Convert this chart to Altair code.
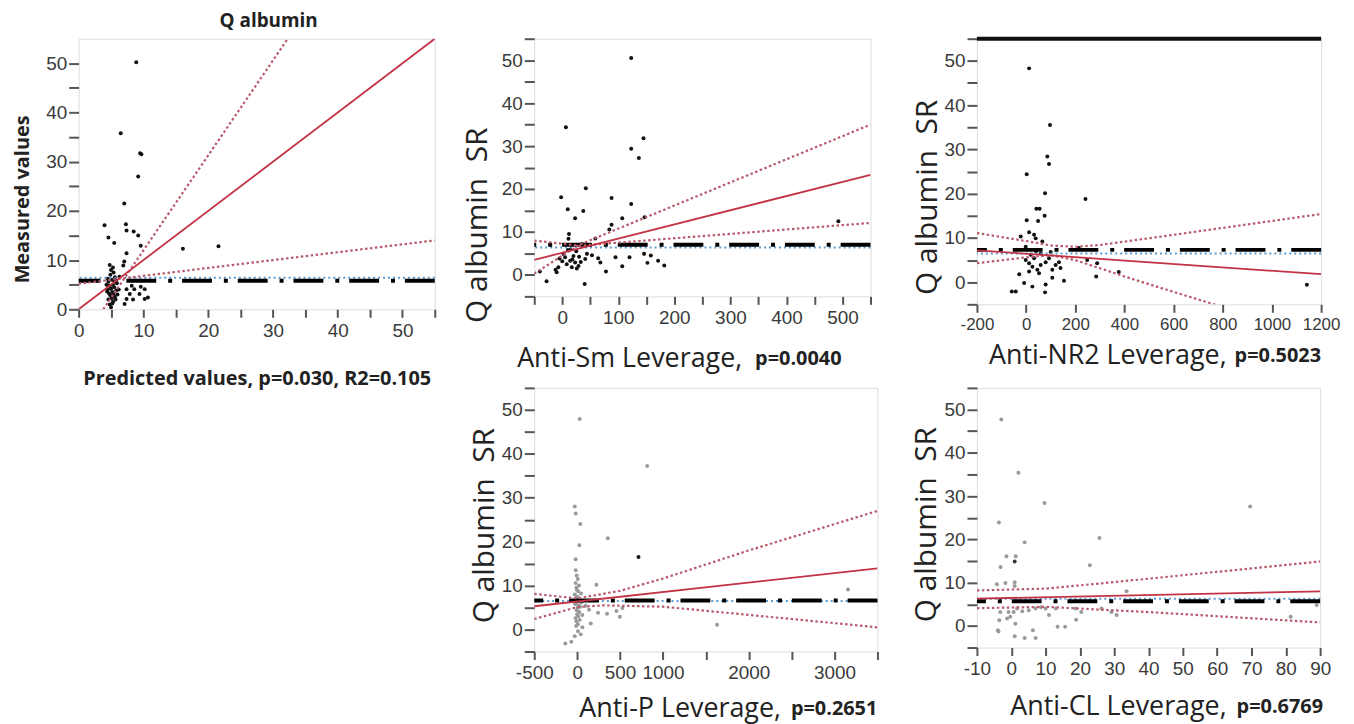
import altair as alt
import pandas as pd

# ---------------- Panel 1: Q albumin, measured vs predicted ----------------
P1_X = [8.9, 6.5, 9.7, 9.5, 9.2, 7.05, 4.0, 7.3, 7.4, 8.5, 4.6, 9.2, 5.5, 9.6, 7.4, 16.1, 21.6, 7.05, 6.9,
        7.4, 8.6, 10.2, 7.9, 9.4, 7.4, 8.4, 10.2, 10.7, 7.1, 9.6, 8.2,
        5.0, 4.8, 5.3, 4.6, 5.1, 5.6, 4.9, 5.4, 4.7, 5.2, 5.8, 4.5, 5.0, 5.5, 4.8, 5.3, 5.9, 4.6, 5.1, 5.6,
        4.9, 5.4, 5.0, 5.3, 4.8, 4.4, 5.7, 6.2, 6.0, 4.3, 5.2, 5.8, 6.3, 4.5]
P1_Y = [50.2, 35.8, 31.5, 31.7, 27.0, 21.5, 17.1, 17.3, 16.0, 15.8, 14.6, 15.0, 13.5, 12.9, 11.4, 12.3, 12.8, 9.7, 8.9,
        4.1, 4.1, 4.1, 3.1, 3.1, 2.1, 2.0, 2.1, 2.4, 1.1, 4.6, 4.8,
        0.4, 1.0, 1.5, 2.0, 2.2, 2.5, 2.8, 3.0, 3.2, 3.5, 3.8, 4.0, 4.2, 4.5, 4.8, 5.0, 5.3, 5.6, 6.0, 6.5,
        7.0, 7.5, 8.0, 8.5, 9.0, 3.6, 2.0, 4.0, 3.0, 5.0, 1.2, 5.8, 6.6, 6.2]
P1_FIT_X, P1_FIT_Y = [0, 55], [0, 55]
P1_UP_X, P1_UP_Y = [3.8, 32.3], [0, 55]
P1_LO_X, P1_LO_Y = [0, 55], [5.2, 14.0]
P1_MEAN, P1_BLUE = 5.8, 6.4

# ---------------- Panel 2: Anti-Sm ----------------
P2_X = [123, 6.5, 145, 123, 136.7, 42, -2, 88, 9.8, 37.5, 123, 22.9, 107, 147, 88, 84, 492.7, 59, 12, 11, 35,
        2, 5, 14, 23, 8, -7, 17, -12, 29, 41, 44, 53, 64, 68, 78, 95, 107, 120, 146, 152, 158, 171, 182,
        -28, -40, 40, -10, 15, 25, 30, 10, 20, 0, -5, 33, 18, 26]
P2_Y = [50.5, 34.4, 31.8, 29.4, 27.2, 20.2, 18.1, 17.9, 15.3, 14.9, 16.5, 13.2, 13.2, 13.4, 11.7, 10.6, 12.5, 8.5, 9.5, 8.4, 7.2,
        4.9, 4.1, 3.3, 2.9, 2.5, 1.8, 1.8, 1.2, 2.1, 3.7, 4.9, 4.6, 3.9, 2.9, 0.8, 4.1, 2.0, 4.1, 4.9, 2.8, 4.5, 3.3, 2.2,
        -1.5, 0.8, -2.1, 0.6, 6.0, 5.5, 4.2, 5.8, 4.4, 3.2, 3.8, 3.0, 3.6, 1.5]
P2_FIT_X, P2_FIT_Y = [-50, 550], [3.5, 23.3]
P2_UP_X, P2_UP_Y = [-50, 30, 550], [0.3, 7.0, 35.0]
P2_LO_X, P2_LO_Y = [-50, 30, 550], [8.0, 6.8, 12.1]
P2_MEAN, P2_BLUE = 7.0, 6.4

# ---------------- Panel 3: Anti-NR2 ----------------
P3_X = [12.2, 97.3, 86.3, 93.2, 2.5, 241.5, 77, 41.8, 55, 75.4, 2.5, 48.7, 1142, 12.2, -21.8, 32.5, 39, 66, -1.5,
        214.7, 248.4, 289, 377, 285, 154, -28, -8, -58, -42, 25.6, 79.5, 77, 106.6, 140, 133.7,
        18.7, 32.5, 12.2, 25.6, 45.8, 59.3, 79.5, 93.2, 12.2, 52.6, 106.6, 120, -1.5, 60, 40, 100]
P3_Y = [48.3, 35.5, 28.4, 26.7, 24.4, 18.8, 20.1, 16.6, 16.6, 15.0, 14.0, 13.8, -0.6, 11.3, 10.3, 10.7, 9.9, 9.2, 8.0,
        7.7, 5.0, 4.3, 2.3, 1.3, 0.3, 1.8, -0.2, -2.1, -2.1, -1.0, -0.5, -2.3, 1.0, 3.2, 4.5,
        6.2, 5.4, 4.3, 3.5, 2.8, 3.9, 4.5, 5.4, 2.4, 2.0, 2.8, 3.9, 5.0, 6.5, 7.0, 6.8]
P3_FIT_X, P3_FIT_Y = [-200, 1200], [7.2, 1.8]
P3_UP_X, P3_UP_Y = [-200, 0, 100, 200, 300, 600, 1200], [11.1, 9.3, 8.3, 8.0, 8.4, 10.7, 15.4]
P3_LO_X, P3_LO_Y = [-200, 0, 100, 200, 400, 600, 800], [4.3, 5.6, 6.1, 5.0, 1.3, -2.2, -5.6]
P3_MEAN, P3_BLUE = 7.3, 6.5

# ---------------- Panel 4: Anti-P ----------------
P4_X = [30, 816, -28, -17, 37, 357, 26, -17, -17, 224, -17, -9, 10, -28, 139, 244, 349, 458, 498, 528, 159, 61,
        -9, 10, -28, 42, -68, -138, 1631, 3157,
        0, 15, -10, 20, 5, -5, 25, 0, 12, -20, 30, 8, -12, 18, 35, -25, 50, 60, 100, 45, -3, 22, 8, -5, 715]
P4_Y = [47.9, 37.2, 28.0, 26.4, 24.0, 20.8, 19.2, 16.0, 13.5, 10.2, 10.6, 9.5, 8.7, 8.0, 4.5, 3.8, 3.6, 4.2, 2.9, 4.9, 1.4, 0.5,
        1.9, -0.4, -1.5, -1.1, -2.8, -3.2, 1.1, 9.1,
        7.5, 7.0, 6.0, 5.5, 5.0, 4.4, 4.0, 3.5, 3.0, 2.6, 2.2, 1.2, 0.8, 6.5, 5.2, 5.8, 6.2, 3.3, 5.4, 8.2, 9.0, 10.0, 11.5, 12.3, 16.5]
P4_DARK = [715]
P4_FIT_X, P4_FIT_Y = [-500, 3500], [5.3, 13.9]
P4_UP_X, P4_UP_Y = [-500, 0, 500, 1000, 2000, 3500], [8.1, 7.1, 8.8, 11.6, 18.0, 27.0]
P4_LO_X, P4_LO_Y = [-500, 0, 300, 1000, 2500, 3500], [2.4, 5.1, 5.5, 5.2, 2.4, 0.5]
P4_MEAN, P4_BLUE = 6.6, 6.5

# ---------------- Panel 5: Anti-CL ----------------
P5_X = [-2.9, 2.1, 9.7, 69.6, -3.6, 25.7, 3.9, -1.4, 1.3, 1.0, 22.9, -3.1, -4.2, -1.7, 1.0, 1.0, 33.6,
        -3.2, -0.8, -3.5, -1.2, -0.3, 0.7, 1.7, 3.2, 5.1, 7.1, 8.6, 10.0, 11.0, 13.0, 1.2, -3.9, -3.7, 1.0,
        3.9, 7.1, 6.3, 13.5, 15.7, 18.9, 20.4, 18.7, 26.3, 29.2, 30.7, 89, 81.4]
P5_Y = [47.7, 35.4, 28.4, 27.6, 23.9, 20.3, 19.3, 16.1, 16.1, 14.9, 14.0, 13.6, 9.6, 9.9, 10.1, 9.2, 8.0,
        3.2, 3.2, 1.3, 1.7, 2.1, 3.2, 4.0, 3.4, 3.6, 4.0, 4.3, 4.0, 2.5, 4.0, 0.5, -1.0, -1.3, -2.4,
        -2.8, -2.8, -1.0, -0.2, -0.2, 1.4, 3.2, 4.0, 4.0, 3.2, 2.5, 4.8, 2.1]
P5_DARK = [14.9]
P5_FIT_X, P5_FIT_Y = [-10, 90], [6.3, 8.0]
P5_UP_X, P5_UP_Y = [-10, 10, 40, 90], [8.2, 8.6, 10.9, 14.9]
P5_LO_X, P5_LO_Y = [-10, 10, 40, 90], [4.1, 4.4, 3.2, 0.8]
P5_MEAN, P5_BLUE = 5.7, 6.3

RED = "#c23346"
PINK = "#b85a6c"
BLUE = "#5b9bd0"
TICK = "#555555"
LAB = "#3a3a3a"
TFONT = "Open Sans"
NUM = "'' + datum.value"


def make_panel(xs, ys, colors, fit, up, lo, mean_y, blue_y, xdom, ydom, xvals, xexpr, yvals, yexpr,
               w, h, ytitle, ytitle_kw, xtitle=None, xtitle_kw=None, texts=None, title=None, top_thick=False,
               xlabsize=19):
    xaxis = alt.Axis(values=xvals, labelExpr=xexpr, grid=False, domain=False, tickSize=8, tickWidth=2,
                     tickColor=TICK, labelFont="Liberation Sans", labelFontSize=xlabsize, labelColor=LAB,
                     labelPadding=4, labelOverlap=False, labelFlush=False,
                     title=xtitle if xtitle else None, **(xtitle_kw or {}))
    yaxis = alt.Axis(values=yvals, labelExpr=yexpr, grid=False, domain=False, tickSize=10, tickWidth=2,
                     tickColor=TICK, labelFont="Liberation Sans", labelFontSize=19, labelColor=LAB,
                     labelPadding=2, labelOverlap=False, labelFlush=False, title=ytitle, **ytitle_kw)
    xs_ = alt.Scale(domain=xdom, nice=False, zero=False)
    ys_ = alt.Scale(domain=ydom, nice=False, zero=False)

    def X():
        return alt.X("x:Q", scale=xs_, axis=xaxis)

    def Y():
        return alt.Y("y:Q", scale=ys_, axis=yaxis)

    pts = pd.DataFrame({"x": xs, "y": ys, "c": colors})
    layers = []
    layers.append(alt.Chart(pts).mark_circle(size=16, opacity=1).encode(
        x=X(), y=Y(), color=alt.Color("c:N", scale=None)))
    layers.append(alt.Chart(pd.DataFrame({"y": [blue_y]})).mark_rule(
        color=BLUE, strokeWidth=2, strokeDash=[2, 3]).encode(y=Y()))
    layers.append(alt.Chart(pd.DataFrame({"y": [mean_y]})).mark_rule(
        color="#000000", strokeWidth=4, strokeDash=[30, 10, 4, 12]).encode(y=Y()))
    for (lx, ly) in (up, lo):
        df = pd.DataFrame({"x": lx, "y": ly, "o": list(range(len(lx)))})
        layers.append(alt.Chart(df).mark_line(color=PINK, strokeWidth=2.2, strokeDash=[2.5, 2.5], clip=True).encode(
            x=X(), y=Y(), order="o:Q"))
    df = pd.DataFrame({"x": fit[0], "y": fit[1]})
    layers.append(alt.Chart(df).mark_line(color=RED, strokeWidth=1.8, clip=True).encode(x=X(), y=Y()))
    if top_thick:
        layers.append(alt.Chart(pd.DataFrame({"a": [0]})).mark_rule(color="#111111", strokeWidth=4).encode(
            x=alt.value(0), x2=alt.value(w), y=alt.value(0)))
    if texts:
        for (txt, px, py, kw) in texts:
            layers.append(alt.Chart(pd.DataFrame({"t": [txt]})).mark_text(baseline="middle", **kw).encode(
                text="t:N", x=alt.value(px), y=alt.value(py)))
    ch = alt.layer(*layers).properties(width=w, height=h)
    if title is not None:
        ch = ch.properties(title=title)
    return ch


ytick_main = list(range(0, 55, 5))
ytick_sr = list(range(-5, 60, 5))
lab10 = "datum.value % 10 == 0 ? '' + datum.value : ''"

p1 = make_panel(P1_X, P1_Y, ["#111111"] * len(P1_X), (P1_FIT_X, P1_FIT_Y), (P1_UP_X, P1_UP_Y), (P1_LO_X, P1_LO_Y),
                P1_MEAN, P1_BLUE, [0, 55], [0, 55], list(range(0, 60, 5)), lab10, ytick_main, lab10,
                358, 272, "Measured values",
                dict(titleFont=TFONT, titleFontSize=20, titleFontWeight="bold", titleColor="#222222",
                     titlePadding=13, titleY=161),
                xtitle="Predicted values, p=0.030, R2=0.105",
                xtitle_kw=dict(titleFont=TFONT, titleFontSize=20, titleFontWeight="bold", titleColor="#222222",
                               titlePadding=29),
                title=alt.TitleParams("Q albumin", font=TFONT, fontSize=19, fontWeight="bold", color="#222222",
                                      offset=8, anchor="middle", dx=12))

sr_kw = dict(titleFont=TFONT, titleFontSize=30, titleFontWeight="normal", titleColor="#222222")
SR = "Q albumin\u00a0 SR"
norm = dict(font=TFONT, fontSize=27, align="right", color="#222222")
bold = dict(font=TFONT, fontSize=20, fontWeight="bold", align="left", color="#222222")

p2 = make_panel(P2_X, P2_Y, ["#111111"] * len(P2_X), (P2_FIT_X, P2_FIT_Y), (P2_UP_X, P2_UP_Y), (P2_LO_X, P2_LO_Y),
                P2_MEAN, P2_BLUE, [-50, 550], [-5, 55], list(range(-50, 600, 50)),
                "datum.value % 100 == 0 ? '' + datum.value : ''", ytick_sr, lab10,
                338, 259, SR, dict(sr_kw, titlePadding=9, titleY=187),
                texts=[("Anti-Sm Leverage,", 209, 259 + 63, norm), ("p=0.0040", 222, 259 + 63, bold)])

p3 = make_panel(P3_X, P3_Y, ["#111111"] * len(P3_X), (P3_FIT_X, P3_FIT_Y), (P3_UP_X, P3_UP_Y), (P3_LO_X, P3_LO_Y),
                P3_MEAN, P3_BLUE, [-200, 1200], [-5, 55], list(range(-200, 1400, 200)), NUM,
                ytick_sr, lab10, 346, 267, SR, dict(sr_kw, titlePadding=2, titleY=159),
                texts=[("Anti-NR2 Leverage,", 251, 267 + 52, norm), ("p=0.5023", 259, 267 + 52, bold)],
                top_thick=True, xlabsize=17)

blank = alt.Chart(pd.DataFrame({"t": [""]})).mark_text().encode(
    text="t:N", x=alt.value(0), y=alt.value(0)).properties(
    width=347, height=10, view=alt.ViewBackground(strokeOpacity=0))

c4 = ["#111111" if x in P4_DARK else "#9a9a9a" for x in P4_X]
p4 = make_panel(P4_X, P4_Y, c4, (P4_FIT_X, P4_FIT_Y), (P4_UP_X, P4_UP_Y), (P4_LO_X, P4_LO_Y),
                P4_MEAN, P4_BLUE, [-500, 3500], [-5, 55], list(range(-500, 4000, 500)),
                "(datum.value == 1500 || datum.value == 2500 || datum.value == 3500) ? '' : '' + datum.value",
                ytick_sr, lab10, 345, 265, SR, dict(sr_kw, titlePadding=2, titleY=138),
                texts=[("Anti-P Leverage,", 248, 265 + 58, norm), ("p=0.2651", 258, 265 + 58, bold)])

c5 = ["#333333" if y in P5_DARK else "#9a9a9a" for y in P5_Y]
p5 = make_panel(P5_X, P5_Y, c5, (P5_FIT_X, P5_FIT_Y), (P5_UP_X, P5_UP_Y), (P5_LO_X, P5_LO_Y),
                P5_MEAN, P5_BLUE, [-10, 90], [-5, 55], list(range(-10, 100, 10)), NUM,
                ytick_sr, lab10, 345, 261, SR, dict(sr_kw, titlePadding=3, titleY=137),
                texts=[("Anti-CL Leverage,", 251, 261 + 60, norm), ("p=0.6769", 261, 261 + 60, bold)])

chart = alt.concat(p1, p2, p3, blank, p4, p5, columns=3,
                   spacing={"row": 79, "column": 100}, bounds="flush",
                   align={"row": "all", "column": "none"},
                   padding={"left": 4, "top": 1, "right": 5, "bottom": 0}).configure_view(
    stroke="#5a5a5a", strokeWidth=2).configure(background="white")

chart.save("out.html", embed_options={"renderer": "svg", "actions": False})
